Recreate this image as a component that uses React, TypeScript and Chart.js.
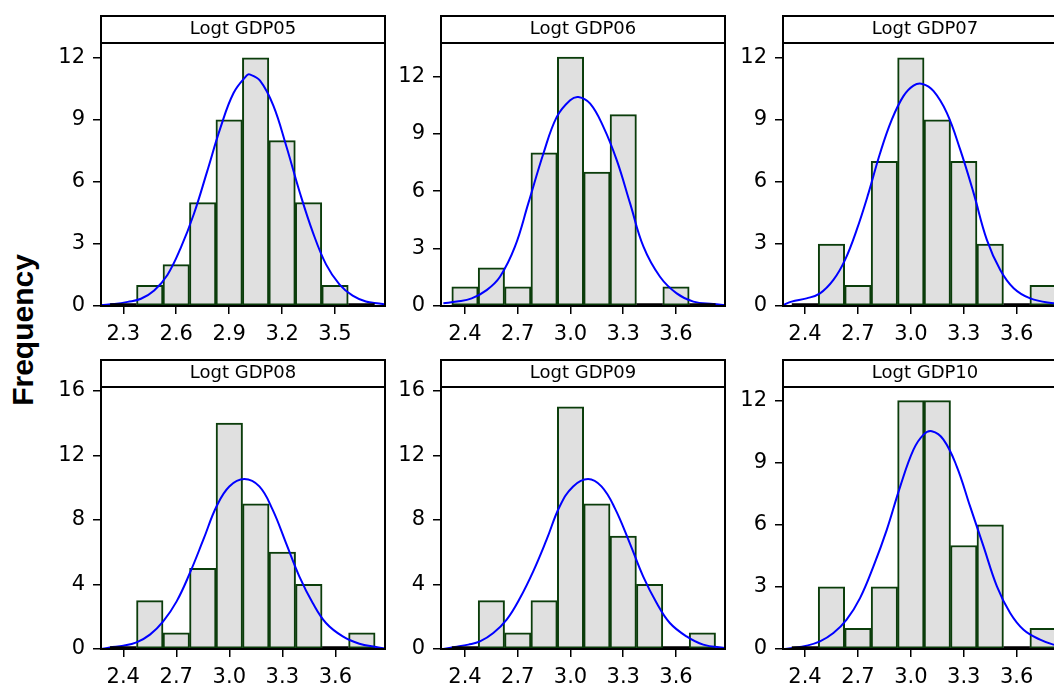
import React, { useEffect, useRef } from "react";
import { Chart, registerables } from "chart.js";

Chart.register(...registerables);

// ---------------- data ----------------
const panelTitles = ["Logt GDP05", "Logt GDP06", "Logt GDP07", "Logt GDP08", "Logt GDP09", "Logt GDP10"];
const yAxisLabel = "Frequency";
const binWidth = 0.15;

// histogram bin centres and frequencies
const bins05 = [2.3, 2.45, 2.6, 2.75, 2.9, 3.05, 3.2, 3.35, 3.5, 3.65];
const freq05 = [0, 1, 2, 5, 9, 12, 8, 5, 1, 0];
const bins06 = [2.4, 2.55, 2.7, 2.85, 3.0, 3.15, 3.3, 3.45, 3.6, 3.75];
const freq06 = [1, 2, 1, 8, 13, 7, 10, 0, 1, 0];
const bins07 = [2.4, 2.55, 2.7, 2.85, 3.0, 3.15, 3.3, 3.45, 3.6, 3.75];
const freq07 = [0, 3, 1, 7, 12, 9, 7, 3, 0, 1];
const bins08 = [2.4, 2.55, 2.7, 2.85, 3.0, 3.15, 3.3, 3.45, 3.6, 3.75];
const freq08 = [0, 3, 1, 5, 14, 9, 6, 4, 0, 1];
const bins09 = [2.4, 2.55, 2.7, 2.85, 3.0, 3.15, 3.3, 3.45, 3.6, 3.75];
const freq09 = [0, 3, 1, 3, 15, 9, 7, 4, 0, 1];
const bins10 = [2.4, 2.55, 2.7, 2.85, 3.0, 3.15, 3.3, 3.45, 3.6, 3.75];
const freq10 = [0, 3, 1, 3, 12, 12, 5, 6, 0, 1];

// fitted normal curves
const curveX05 = [2.175, 2.25, 2.325, 2.4, 2.475, 2.55, 2.625, 2.7, 2.775, 2.85, 2.925, 3.0, 3.015, 3.075, 3.15, 3.225, 3.3, 3.375, 3.45, 3.525, 3.6, 3.675, 3.75, 3.783];
const curveY05 = [0.05, 0.1, 0.2, 0.35, 0.75, 1.5, 2.8, 4.45, 6.5, 8.6, 10.3, 11.15, 11.2, 10.9, 9.7, 7.7, 5.5, 3.55, 2.0, 1.05, 0.5, 0.22, 0.12, 0.08];
const curveX06 = [2.277, 2.353, 2.438, 2.523, 2.599, 2.684, 2.76, 2.846, 2.922, 2.998, 3.045, 3.112, 3.187, 3.263, 3.339, 3.415, 3.509, 3.604, 3.699, 3.812, 3.879];
const curveY06 = [0.14, 0.23, 0.4, 0.83, 1.53, 3.1, 5.36, 7.97, 9.88, 10.75, 10.92, 10.57, 9.36, 7.62, 5.36, 3.1, 1.53, 0.66, 0.23, 0.1, 0.05];
const curveX07 = [2.277, 2.324, 2.409, 2.485, 2.561, 2.627, 2.693, 2.76, 2.826, 2.892, 2.958, 3.015, 3.066, 3.129, 3.204, 3.28, 3.356, 3.431, 3.507, 3.583, 3.677, 3.81, 3.885];
const curveY07 = [0.05, 0.21, 0.37, 0.61, 1.26, 2.23, 3.68, 5.46, 7.4, 9.01, 10.15, 10.66, 10.74, 10.39, 9.34, 7.56, 5.46, 3.2, 1.74, 0.86, 0.37, 0.13, 0.08];
const curveX08 = [2.277, 2.323, 2.4, 2.475, 2.551, 2.626, 2.702, 2.777, 2.853, 2.928, 3.0, 3.085, 3.17, 3.245, 3.321, 3.396, 3.472, 3.547, 3.642, 3.736, 3.83, 3.88];
const curveY08 = [0.0, 0.1, 0.2, 0.41, 0.89, 1.71, 2.95, 4.71, 6.77, 8.84, 10.07, 10.53, 10.07, 8.63, 6.56, 4.5, 2.85, 1.61, 0.78, 0.33, 0.12, 0.02];
const curveX09 = [2.277, 2.343, 2.419, 2.485, 2.561, 2.637, 2.713, 2.788, 2.864, 2.939, 3.015, 3.1, 3.176, 3.252, 3.337, 3.413, 3.49, 3.565, 3.66, 3.755, 3.879];
const curveY09 = [0.0, 0.12, 0.27, 0.47, 0.99, 1.82, 3.16, 4.81, 6.77, 8.84, 10.07, 10.53, 10.07, 8.73, 6.56, 4.5, 2.85, 1.61, 0.78, 0.27, 0.06];
const curveX10 = [2.277, 2.334, 2.409, 2.485, 2.561, 2.636, 2.712, 2.788, 2.864, 2.94, 3.015, 3.072, 3.119, 3.185, 3.26, 3.336, 3.412, 3.488, 3.563, 3.639, 3.733, 3.808, 3.885];
const curveY10 = [0.0, 0.05, 0.16, 0.37, 0.77, 1.42, 2.46, 3.99, 5.77, 7.86, 9.63, 10.36, 10.52, 10.12, 8.83, 6.89, 4.96, 3.03, 1.74, 0.93, 0.45, 0.21, 0.1];

// axis ticks and extents
const xTicks05 = [2.3, 2.6, 2.9, 3.2, 3.5];
const xTicksOther = [2.4, 2.7, 3.0, 3.3, 3.6];
const yTicks12 = [0, 3, 6, 9, 12];
const yTicks16 = [0, 4, 8, 12, 16];
const xRange05 = [2.1736, 3.7834];
const xRange06 = [2.2635, 3.8787];
const xRange07 = [2.2753, 3.8853];
const xRange08 = [2.274, 3.881];
const xRange09 = [2.2635, 3.8787];
const xRange10 = [2.2753, 3.8853];
const yMax05 = 12.72;
const yMax06 = 13.74;
const yMax07 = 12.72;
const yMax08 = 16.23;
const yMax09 = 16.23;
const yMax10 = 12.66;

// ---------------- layout ----------------
const PLOT_W = 284;
const Y_AXIS_W = 60;
const X_AXIS_H = 45;
const HEADER_H = 27;
const PAD_TOP = 3;
const PAD_RIGHT = 3;
const COL_LEFT = [101, 441, 783];
const ROW_TOP = [43, 387];
const ROW_BOTTOM = [306, 649];

const panels = [
  { title: panelTitles[0], bins: bins05, freq: freq05, cx: curveX05, cy: curveY05, xTicks: xTicks05, yTicks: yTicks12, xRange: xRange05, yMax: yMax05, col: 0, row: 0 },
  { title: panelTitles[1], bins: bins06, freq: freq06, cx: curveX06, cy: curveY06, xTicks: xTicksOther, yTicks: yTicks12, xRange: xRange06, yMax: yMax06, col: 1, row: 0 },
  { title: panelTitles[2], bins: bins07, freq: freq07, cx: curveX07, cy: curveY07, xTicks: xTicksOther, yTicks: yTicks12, xRange: xRange07, yMax: yMax07, col: 2, row: 0 },
  { title: panelTitles[3], bins: bins08, freq: freq08, cx: curveX08, cy: curveY08, xTicks: xTicksOther, yTicks: yTicks16, xRange: xRange08, yMax: yMax08, col: 0, row: 1 },
  { title: panelTitles[4], bins: bins09, freq: freq09, cx: curveX09, cy: curveY09, xTicks: xTicksOther, yTicks: yTicks16, xRange: xRange09, yMax: yMax09, col: 1, row: 1 },
  { title: panelTitles[5], bins: bins10, freq: freq10, cx: curveX10, cy: curveY10, xTicks: xTicksOther, yTicks: yTicks12, xRange: xRange10, yMax: yMax10, col: 2, row: 1 },
];

const TICK_FONT = { family: "'DejaVu Sans', sans-serif", size: 21 };

const panelDeco = {
  id: "panelDeco",
  afterDatasetsDraw(chart: any, _args: any, opts: any) {
    const { ctx, chartArea } = chart;
    const xs = chart.scales.x;
    const ys = chart.scales.y;
    const y0 = ys.getPixelForValue(0);
    ctx.save();
    // zero-count bins marked on the baseline
    ctx.strokeStyle = "#000";
    ctx.lineWidth = 2.5;
    (opts.bins || []).forEach((c: number, i: number) => {
      if (opts.freq[i] === 0) {
        const a = xs.getPixelForValue(c - binWidth / 2);
        const b = xs.getPixelForValue(c + binWidth / 2);
        ctx.beginPath();
        ctx.moveTo(Math.max(a, chartArea.left), y0 - 1.5);
        ctx.lineTo(Math.min(b, chartArea.right), y0 - 1.5);
        ctx.stroke();
      }
    });
    ctx.restore();
  },
  afterDraw(chart: any) {
    const { ctx, chartArea } = chart;
    const { left, right, top, bottom } = chartArea;
    ctx.save();
    ctx.strokeStyle = "#000";
    ctx.lineWidth = 2;
    ctx.strokeRect(left, top, right - left, bottom - top);
    ctx.strokeRect(left, top - HEADER_H, right - left, HEADER_H);
    ctx.restore();
  },
};

function Panel({ p }: { p: any }) {
  const ref = useRef<HTMLCanvasElement>(null);
  const T = ROW_TOP[p.row];
  const B = ROW_BOTTOM[p.row];
  const L = COL_LEFT[p.col];
  const W = Y_AXIS_W + PLOT_W + PAD_RIGHT;
  const H = PAD_TOP + HEADER_H + (B - T) + X_AXIS_H;
  const left = L - Y_AXIS_W;
  const top = T - HEADER_H - PAD_TOP;

  useEffect(() => {
    if (!ref.current) return;
    const barData = p.bins.map((c: number, i: number) => ({ x: c, y: p.freq[i] }));
    const lineData = p.cx.map((x: number, i: number) => ({ x, y: p.cy[i] }));
    const chart = new Chart(ref.current, {
      type: "bar",
      data: {
        datasets: [
          {
            type: "line",
            data: lineData,
            borderColor: "#0000ff",
            borderWidth: 2,
            pointRadius: 0,
            fill: false,
            tension: 0.4,
            order: 0,
          } as any,
          {
            type: "bar",
            data: barData,
            backgroundColor: "#e0e0e0",
            borderColor: "#0b3d0b",
            borderWidth: 2,
            borderSkipped: false,
            barPercentage: 1,
            categoryPercentage: 1,
            grouped: false,
            order: 1,
          } as any,
        ],
      },
      options: {
        animation: false,
        responsive: false,
        devicePixelRatio: 1,
        layout: { padding: { top: PAD_TOP, right: PAD_RIGHT, left: 0, bottom: 0 } },
        plugins: {
          legend: { display: false },
          tooltip: { enabled: false },
          title: {
            display: true,
            text: p.title,
            fullSize: false,
            color: "#000",
            font: { family: "'DejaVu Sans', sans-serif", size: 18, weight: "normal", lineHeight: 1.2 },
            padding: { top: 3, bottom: 2.4 },
          },
          panelDeco: { bins: p.bins, freq: p.freq },
        } as any,
        scales: {
          x: {
            type: "linear",
            min: p.xRange[0],
            max: p.xRange[1],
            offset: false,
            afterBuildTicks: (s: any) => {
              s.ticks = p.xTicks.map((v: number) => ({ value: v }));
            },
            afterFit: (s: any) => {
              s.height = X_AXIS_H;
            },
            ticks: {
              color: "#000",
              font: TICK_FONT,
              padding: 8,
              maxRotation: 0,
              autoSkip: false,
              callback: (v: any) => Number(v).toFixed(1),
            },
            grid: { display: true, drawOnChartArea: false, drawTicks: true, tickLength: 8, color: "#000", lineWidth: 1.5, offset: false },
            border: { display: false },
          },
          y: {
            type: "linear",
            min: 0,
            max: p.yMax,
            afterBuildTicks: (s: any) => {
              s.ticks = p.yTicks.map((v: number) => ({ value: v }));
            },
            afterFit: (s: any) => {
              s.width = Y_AXIS_W;
            },
            ticks: {
              color: "#000",
              font: TICK_FONT,
              padding: 8,
              autoSkip: false,
              callback: (v: any) => String(v),
            },
            grid: { display: true, drawOnChartArea: false, drawTicks: true, tickLength: 8, color: "#000", lineWidth: 1.5 },
            border: { display: false },
          },
        },
      } as any,
      plugins: [panelDeco],
    });
    return () => chart.destroy();
  }, []);

  return (
    <canvas
      ref={ref}
      width={W}
      height={H}
      style={{ position: "absolute", left, top, width: W, height: H }}
    />
  );
}

export default function App() {
  return (
    <div
      style={{
        position: "absolute",
        left: 0,
        top: 0,
        width: 1054,
        height: 686,
        overflow: "hidden",
        background: "#fff",
      }}
    >
      {panels.map((p, i) => (
        <Panel key={i} p={p} />
      ))}
      <div
        style={{
          position: "absolute",
          left: 22.85,
          top: 330,
          transform: "translate(-50%, -50%) rotate(-90deg)",
          font: "bold 30px 'Liberation Sans', Arial, sans-serif",
          lineHeight: "30px",
          whiteSpace: "nowrap",
          color: "#000",
        }}
      >
        {yAxisLabel}
      </div>
    </div>
  );
}
